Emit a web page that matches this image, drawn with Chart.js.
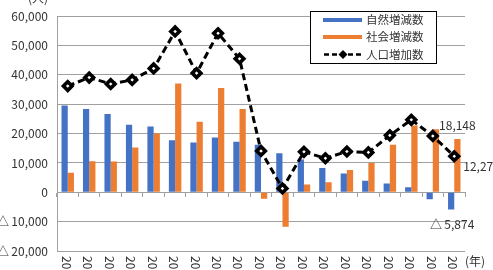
<!DOCTYPE html>
<html><head><meta charset="utf-8">
<script src="https://cdn.jsdelivr.net/npm/chart.js@4.4.1/dist/chart.umd.min.js"></script>
<style>html,body{margin:0;padding:0;background:#fff;overflow:hidden}</style>
</head><body>
<canvas id="c" width="493" height="270"></canvas>
<script>
const categories = ['20','20','20','20','20','20','20','20','20','20','20','20','20','20','20','20','20','20','20'];
const naturalChange = [29600, 28400, 26700, 23000, 22400, 17700, 17000, 18700, 17200, 16200, 13300, 11200, 8300, 6400, 3900, 3000, 1700, -2350, -5874];
const socialChange = [6700, 10600, 10500, 15300, 20000, 37100, 24000, 35500, 28400, -2200, -11700, 2700, 3400, 7600, 10000, 16200, 22800, 21500, 18148];
const populationChange = [36200, 39100, 36900, 38300, 42200, 54800, 40600, 54200, 45500, 14100, 1300, 13800, 11600, 13900, 13600, 19400, 24700, 19200, 12274];
const seriesNames = ['自然増減数', '社会増減数', '人口増加数'];
const yUnit = '(人)';
const xUnit = '(年)';

const FONT = '"Noto Sans CJK JP", "Noto Sans", sans-serif';
const BLUE = '#4472C4', ORANGE = '#ED7D31', GRID = '#a0a0a0', TXT = '#333333';
function fmt(v){ const s = Math.abs(v).toLocaleString('en-US'); return v < 0 ? '△\u2009' + s : s; }

const decor = {
  id: 'decor',
  afterDatasetsDraw(chart){
    const {ctx, chartArea: a, scales: {x}} = chart;
    ctx.save();
    ctx.font = '12px ' + FONT;
    ctx.fillStyle = TXT;
    ctx.textAlign = 'left'; ctx.textBaseline = 'middle';
    categories.forEach((c, i) => {
      const px = x.getPixelForValue(i);
      ctx.save(); ctx.translate(px - 1.5, a.bottom + 5); ctx.rotate(Math.PI / 2); ctx.fillText(c, 0, 0); ctx.restore();
    });
    ctx.textAlign = 'center'; ctx.fillText(yUnit, 38, -2);
    ctx.textAlign = 'left'; ctx.fillText(xUnit, 465, 261.5);
    const n = categories.length - 1;
    const bN = chart.getDatasetMeta(0).data[n];
    const bS = chart.getDatasetMeta(1).data[n];
    const pT = chart.getDatasetMeta(2).data[n];
    ctx.textAlign = 'center';
    ctx.fillText(fmt(socialChange[n]), bS.x, bS.y - 14);
    ctx.fillText(fmt(naturalChange[n]), bN.x + 1, bN.y + 15);
    ctx.textAlign = 'left';
    ctx.fillText(fmt(populationChange[n]), pT.x + 9, pT.y + 10.5);
    // legend
    ctx.fillStyle = '#fff';
    ctx.fillRect(310.5, 11.5, 126, 52);
    ctx.strokeStyle = '#000'; ctx.lineWidth = 1;
    ctx.strokeRect(310.5, 11.5, 126, 52);
    const rows = [20, 37, 54.5];
    ctx.lineWidth = 4;
    ctx.strokeStyle = BLUE; ctx.beginPath(); ctx.moveTo(323, rows[0]); ctx.lineTo(362, rows[0]); ctx.stroke();
    ctx.strokeStyle = ORANGE; ctx.beginPath(); ctx.moveTo(323, rows[1]); ctx.lineTo(362, rows[1]); ctx.stroke();
    ctx.strokeStyle = '#000'; ctx.lineWidth = 2.5; ctx.setLineDash([5, 3]);
    ctx.beginPath(); ctx.moveTo(324, rows[2]); ctx.lineTo(363, rows[2]); ctx.stroke();
    ctx.setLineDash([]);
    ctx.fillStyle = '#000';
    ctx.beginPath(); ctx.moveTo(343, rows[2] - 4.5); ctx.lineTo(347.5, rows[2]); ctx.lineTo(343, rows[2] + 4.5); ctx.lineTo(338.5, rows[2]); ctx.closePath(); ctx.fill();
    ctx.fillStyle = TXT; ctx.textAlign = 'left'; ctx.textBaseline = 'middle';
    ctx.font = '11.5px ' + FONT;
    seriesNames.forEach((s, i) => ctx.fillText(s, 366, rows[i]));
    ctx.restore();
  }
};

new Chart(document.getElementById('c'), {
  type: 'bar',
  data: {
    labels: categories,
    datasets: [
      {label: seriesNames[0], data: naturalChange, backgroundColor: BLUE, categoryPercentage: 0.58, barPercentage: 1.0, order: 2},
      {label: seriesNames[1], data: socialChange, backgroundColor: ORANGE, categoryPercentage: 0.58, barPercentage: 1.0, order: 2},
      {label: seriesNames[2], type: 'line', data: populationChange, borderColor: '#000', borderWidth: 3, borderDash: [7, 4],
       pointStyle: 'rectRot', pointRadius: 4.3, pointBackgroundColor: '#fff', pointBorderColor: '#000', pointBorderWidth: 3.6,
       tension: 0, fill: false, order: 0}
    ]
  },
  options: {
    responsive: false, animation: false, devicePixelRatio: 1,
    layout: {padding: {left: 0, right: 28, top: 12, bottom: 0}},
    plugins: {legend: {display: false}, tooltip: {enabled: false}},
    scales: {
      x: {
        offset: true,
        grid: {display: false, offset: true},
        border: {display: false},
        ticks: {display: false},
        afterFit(s){ s.height = 19; }
      },
      x2: {
        axis: 'x', type: 'category', position: {y: 0}, offset: true,
        grid: {offset: true, drawOnChartArea: false, drawTicks: true, tickLength: 4, color: GRID, lineWidth: 1},
        border: {display: true, color: GRID, width: 1},
        ticks: {display: false}
      },
      y: {
        min: -20000, max: 60000,
        grid: {color: GRID, lineWidth: 1, drawTicks: false},
        border: {display: true, color: GRID, width: 1},
        ticks: {stepSize: 10000, padding: 9, color: TXT, font: {family: FONT, size: 12}, callback: v => fmt(v)},
        afterFit(s){ s.width = 57; }
      }
    }
  },
  plugins: [decor]
});
</script>
</body></html>
